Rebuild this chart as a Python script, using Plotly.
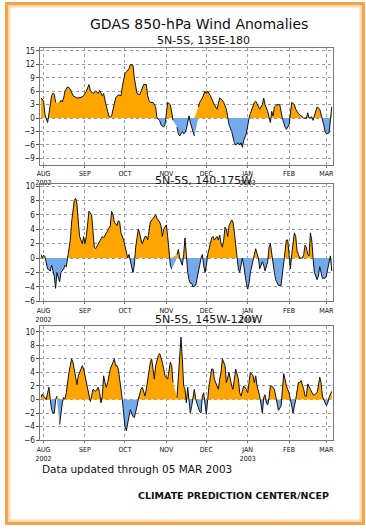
import datetime as dt
import plotly.graph_objects as go

# ---------------- data (day offsets from 1 Aug 2002, anomaly m/s) ----------------
BASE = "2002-08-01"

p1_days = [-2, -1, 0, 1, 2, 3, 4, 5, 6, 7, 8, 9, 10, 11, 12, 13, 14, 15, 16, 18, 20, 22, 25, 28, 30, 32,
           34, 35, 37, 39, 41, 42, 44, 45, 46, 47, 48, 49, 50, 51, 52, 54, 56, 58, 59, 61, 62, 64, 65, 67,
           68, 69, 70, 72, 74, 75, 77, 78, 79, 80, 82, 84, 85, 87, 88, 90, 91, 92, 93, 95, 96, 97, 98,
           100, 101, 102, 104, 105, 106, 107, 109, 110, 112, 113, 114, 116, 117, 119, 121, 122, 123, 125,
           127, 128, 130, 131, 132, 134, 135, 137, 138, 139, 141, 142, 143, 144, 146, 147, 148, 149, 150,
           152, 153, 154, 155, 157, 158, 159, 160, 162, 163, 164, 165, 166, 168, 169, 170, 171, 172, 173,
           175, 177, 178, 179, 181, 182, 184, 185, 186, 188, 189, 191, 193, 195, 197, 198, 199, 201, 202,
           203, 205, 207, 208, 209, 210, 211, 212, 214, 215, 216]
p1_vals = [4.5, 4.2, 3.8, 0.8, -0.3, -1.0, 1.0, 3.0, 5.0, 5.6, 5.3, 3.5, None, None, 3.5, 4.0, 3.6, 4.5, 6.0,
           7.0, 6.5, 5.0, 4.5, 4.6, 5.0, 6.0, 7.5, 6.2, 5.5, 6.0, 5.5, 6.2, 5.0, 5.5, 4.0, 3.0, 1.5, 0.4,
           0.2, 0.5, 2.0, 4.5, 5.2, 5.0, 7.0, 10.0, 10.3, 11.0, 12.0, 11.8, 9.0, 7.5, 5.5, 5.2, 6.5, 7.5,
           7.5, 5.0, 4.0, 3.5, 3.5, 2.5, 0.0, -0.5, -1.5, -2.0, -1.5, 1.5, 3.5, 3.0, 1.0, -0.5, None,
           -2.0, -3.5, -4.0, -3.0, -3.5, -3.3, -2.5, 0.5, -1.0, -3.0, -4.0, None, 2.5, 3.5, 4.5, 6.0, 5.5,
           6.0, 5.0, 3.5, 3.0, 2.0, 3.5, 4.5, 4.0, 3.5, 2.0, 0.0, -1.5, -3.0, -4.5, -5.5, -6.0, -5.5, -6.0,
           -5.5, -6.5, -5.0, -3.5, -1.5, 0.0, 1.0, 2.5, 3.5, 3.8, 3.3, 2.0, 2.5, 3.0, 4.5, 3.0, 1.5, 0.0,
           -1.0, 1.5, 0.5, 2.5, 3.0, 3.0, 1.5, 0.0, -2.0, -2.5, -1.5, 1.0, 3.5, 3.0, 2.0, 1.0, 0.5, 0.0,
           0.0, 1.2, 0.0, 0.3, -0.5, 0.5, 2.5, 2.0, 1.0, 0.0, -1.5, -3.0, -3.5, -3.3, -1.0, 2.5]

p2_days = [-2, -1, 0, 1, 3, 5, 6, 8, 9, 10, 12, 13, 15, 16, 17, 18, 20, 21, 22, 23, 24, 25, 26, 27, 28, 29,
           30, 31, 32, 33, 34, 36, 37, 38, 39, 41, 42, 44, 45, 46, 47, 48, 50, 51, 52, 53, 55, 56, 57, 58,
           60, 61, 62, 63, 64, 66, 67, 68, 69, 71, 72, 73, 74, 76, 77, 78, 79, 80, 82, 84, 85, 87, 88, 89,
           90, 92, 93, 94, 95, 96, 97, 100, 101, 102, 104, 105, 106, 107, 108, 109, 110, 111, 112, 114,
           115, 116, 117, 118, 119, 120, 121, 122, 123, 125, 126, 127, 128, 130, 131, 132, 133, 134, 135,
           136, 137, 138, 139, 141, 142, 143, 144, 145, 146, 147, 148, 149, 150, 151, 152, 153, 154, 155,
           156, 157, 158, 159, 160, 161, 162, 163, 164, 165, 166, 168, 169, 170, 171, 172, 173, 174, 175,
           176, 178, 179, 180, 181, 182, 183, 184, 185, 186, 187, 188, 189, 190, 191, 192, 194, 195, 196,
           197, 198, 199, 200, 201, 202, 203, 205, 206, 207, 208, 209, 211, 212, 213, 214, 215, 216]
p2_vals = [0.5, 0.0, 0.4, 0.2, -1.5, -1.8, -1.0, -2.5, -4.2, -2.0, -3.3, -2.0, -1.5, -1.0, -1.2, 0.0, 2.5,
           5.0, 6.5, 8.0, 8.3, 7.5, 5.0, 3.0, 2.5, 2.0, 3.0, 2.0, 3.0, 5.0, 6.5, 6.0, 3.0, 1.5, 1.3, 2.0,
           2.5, 3.0, 2.8, 3.2, 3.5, 3.8, 4.5, 6.5, 6.0, 5.0, 4.5, 5.2, 5.0, 3.5, 2.5, 1.5, 0.5, 0.0, 0.5,
           -1.5, -2.0, -1.0, 1.5, 4.0, 3.5, 2.5, 2.0, 3.0, 3.0, 2.5, 3.5, 5.0, 5.5, 6.0, 5.5, 5.0, 4.5,
           3.0, 4.0, 4.6, 3.0, 1.0, -1.0, -1.5, None, 0.5, 1.2, 0.0, -1.0, 0.5, 2.8, 0.5, -2.0, -3.0, -3.5,
           -3.5, -4.0, -3.8, -3.0, -2.0, -1.0, 0.0, 0.5, -1.0, -2.0, -1.0, 0.5, 2.0, 2.8, 3.0, 2.5, 3.0,
           2.5, 3.2, 2.0, 1.5, 2.5, 4.3, 4.0, 3.0, 4.5, 5.3, 5.0, 3.5, 1.5, 0.0, -1.5, -2.0, -1.0, 0.0,
           -1.0, -2.5, -3.5, -4.3, -3.5, -2.0, -1.0, 0.0, 0.5, 1.3, 0.5, 0.0, -1.5, -1.0, -0.5, -1.0, -1.8,
           -0.5, 1.5, 2.0, 0.5, -1.0, -2.0, -3.0, -3.5, -3.8, -3.8, -2.0, -0.5, 1.0, 2.5, 2.5, 0.0, -1.5,
           0.5, 2.0, 3.5, 3.0, 1.0, 0.5, 0.0, 0.0, 0.5, 1.8, 1.5, 0.5, 0.3, 3.5, 2.5, 0.0, -2.0, -3.0,
           -2.5, -1.2, -2.0, -2.8, -2.8, -2.5, -1.5, -0.5, 0.3, -1.8]

p3_days = [-2, -1, 0, 2, 3, 4, 5, 6, 7, 8, 9, 10, 11, 12, 13, 14, 15, 16, 17, 18, 19, 20, 21, 22, 23, 24,
           25, 26, 27, 28, 29, 30, 31, 32, 34, 35, 36, 37, 39, 40, 41, 42, 43, 44, 45, 46, 47, 48, 49, 50,
           52, 53, 54, 55, 56, 57, 58, 59, 60, 61, 62, 63, 64, 65, 66, 67, 68, 69, 70, 71, 72, 73, 74, 75,
           76, 77, 78, 80, 81, 82, 83, 84, 85, 86, 87, 88, 89, 90, 91, 93, 94, 95, 96, 97, 98, 100, 101,
           102, 103, 104, 105, 106, 107, 108, 109, 110, 111, 112, 113, 114, 115, 116, 117, 118, 119, 120,
           121, 122, 123, 124, 126, 127, 128, 130, 131, 132, 133, 134, 136, 137, 138, 139, 141, 142, 143,
           144, 146, 147, 148, 149, 150, 152, 153, 154, 155, 157, 158, 159, 160, 162, 163, 164, 165, 166,
           167, 168, 169, 170, 171, 173, 174, 175, 176, 178, 179, 180, 181, 182, 184, 185, 186, 187, 189,
           190, 191, 192, 193, 195, 196, 197, 198, 200, 201, 202, 203, 205, 206, 207, 208, 209, 211, 212,
           213, 214, 216]
p3_vals = [0.3, 0.8, 0.5, 0.0, 1.0, 1.8, 0.0, -1.5, -2.0, -2.0, 0.0, 0.5, None, -3.7, -2.0, -0.5, 0.3, 0.1,
           1.0, 3.0, 4.0, 5.0, 6.0, 5.5, 4.5, 3.5, 2.2, 3.5, 4.0, 4.5, 5.0, 4.5, 3.5, 3.0, 1.0, -0.3, 0.5,
           1.5, 1.2, 1.5, 1.8, 1.0, -0.5, 0.5, 3.5, 2.5, 1.8, 2.5, 3.5, 4.5, 5.5, 6.0, 5.0, 5.0, 4.5, 3.0,
           2.0, 0.0, -2.0, -4.0, -4.6, -3.5, -2.0, -1.5, -2.0, -2.5, -2.7, -2.0, -1.0, 0.0, 1.0, 1.5, 1.8,
           1.0, 0.5, 1.5, 3.0, 5.5, 6.0, 4.0, 3.0, 5.0, 6.0, 6.5, 6.8, 6.2, 5.5, 4.5, 3.5, 3.0, 4.5, 5.5,
           5.0, 2.5, None, 0.3, 3.0, 6.0, 9.2, 6.0, 2.0, 1.5, -0.5, 1.8, 0.0, -2.0, -1.0, 0.5, 1.5, 0.0,
           -0.5, -1.0, -1.8, -2.0, 0.5, 1.0, -1.0, -2.2, 0.0, 2.0, 4.5, 4.5, 3.0, 2.0, 1.5, 3.0, 4.0, 6.0,
           5.0, 2.5, 3.5, 4.0, 2.0, 1.5, 3.0, 4.5, 3.0, 1.0, 0.5, 1.5, 2.0, 1.5, 1.0, 2.5, 4.0, 3.5, 2.5,
           3.5, 2.0, 0.5, -1.0, -2.0, 0.3, 0.7, -0.5, -0.8, 0.3, 2.0, 2.0, 1.5, 0.5, -0.5, -1.6, -1.0, 2.0,
           3.8, 3.0, 2.0, 1.0, 0.0, -1.0, -2.0, 0.0, 1.5, 2.5, 2.5, 2.8, 1.5, 0.5, 0.5, 2.3, 1.5, 1.0, 0.7,
           0.7, 1.0, 2.0, 3.3, 2.5, 0.5, -0.5, -0.9, -0.5, 0.3, 1.2]

panel_titles = ["5N-5S, 135E-180", "5N-5S, 140-175W", "5N-5S, 145W-120W"]
y_ticks = [[-9, -6, -3, 0, 3, 6, 9, 12, 15], [-6, -4, -2, 0, 2, 4, 6, 8, 10], [-6, -4, -2, 0, 2, 4, 6, 8, 10]]
y_ranges = [[-10.43, 15.64], [-6.0, 10.3], [-6.0, 10.9]]
month_starts = ["2002-08-01", "2002-09-01", "2002-10-01", "2002-11-01", "2002-12-01",
                "2003-01-01", "2003-02-01", "2003-03-01"]
month_labels = ["AUG<br>2002", "SEP", "OCT", "NOV", "DEC", "JAN<br>2003", "FEB", "MAR"]
main_title = "GDAS 850-hPa Wind Anomalies"
footer_left = "Data updated through 05 MAR 2003"
footer_right = "CLIMATE PREDICTION CENTER/NCEP"

# ---------------- helpers ----------------
base = dt.datetime.fromisoformat(BASE)


def to_date(d):
    return base + dt.timedelta(days=d)


def split_signs(days, vals):
    xs, pos, neg = [], [], []
    prev = None
    for d, v in zip(days, vals):
        if v is None:
            xs.append(to_date(d)); pos.append(None); neg.append(None)
            prev = None
            continue
        if prev is not None and prev[1] * v < 0:
            t = prev[1] / (prev[1] - v)
            dc = prev[0] + t * (d - prev[0])
            xs.append(to_date(dc)); pos.append(0.0); neg.append(0.0)
        xs.append(to_date(d)); pos.append(max(v, 0.0)); neg.append(min(v, 0.0))
        prev = (d, v)
    return xs, pos, neg


W, H = 366, 530
ORANGE = "#FFA500"
BLUE = "#72AAEC"
FONT = "DejaVu Sans"
TICKFONT = "DejaVu Sans Condensed, " + FONT

# pixel layout of the three frames
frames = [(46.7, 165.0), (184.3, 303.3), (328.0, 444.0)]
x_left, x_right = 36.0, 333.0

fig = go.Figure()
series = [(p1_days, p1_vals), (p2_days, p2_vals), (p3_days, p3_vals)]
for i, (days, vals) in enumerate(series):
    sfx = "" if i == 0 else str(i + 1)
    xs, pos, neg = split_signs(days, vals)
    common = dict(xaxis="x" + sfx, yaxis="y" + sfx, showlegend=False, hoverinfo="skip",
                  connectgaps=False, mode="lines")
    fig.add_trace(go.Scatter(x=xs, y=pos, fill="tozeroy", fillcolor=ORANGE,
                             line=dict(width=0, color=ORANGE), **common))
    fig.add_trace(go.Scatter(x=xs, y=neg, fill="tozeroy", fillcolor=BLUE,
                             line=dict(width=0, color=BLUE), **common))
    fig.add_trace(go.Scatter(x=[to_date(d) for d in days], y=vals,
                             line=dict(width=1, color="#111111"), **common))

layout = dict(width=W, height=H, margin=dict(l=0, r=0, t=0, b=0),
              paper_bgcolor="white", plot_bgcolor="white",
              font=dict(family=FONT, color="#111111"))

xr = [to_date(-2.4), to_date(216.6)]
for i, (top, bot) in enumerate(frames):
    sfx = "" if i == 0 else str(i + 1)
    layout["xaxis" + sfx] = dict(
        domain=[x_left / W, x_right / W], anchor="y" + sfx, type="date", range=xr,
        tickmode="array", tickvals=month_starts, ticktext=month_labels,
        tickfont=dict(size=7, family=TICKFONT), tickangle=0,
        showgrid=True, gridcolor="#9a9a9a", griddash="dot", gridwidth=1,
        showline=True, linecolor="#777777", linewidth=1, mirror=True,
        ticks="outside", ticklen=2, tickcolor="#777777", zeroline=False, fixedrange=True)
    layout["yaxis" + sfx] = dict(
        domain=[1 - bot / H, 1 - top / H], anchor="x" + sfx, range=y_ranges[i],
        tickmode="array", tickvals=y_ticks[i], tickfont=dict(size=8, family=TICKFONT),
        showgrid=True, gridcolor="#9a9a9a", griddash="dot", gridwidth=1,
        showline=True, linecolor="#777777", linewidth=1, mirror=True,
        ticks="outside", ticklen=3, tickcolor="#555555", zeroline=False, fixedrange=True)

fig.update_layout(**layout)

ann = [
    dict(text=main_title, x=197 / W, y=1 - 22 / H, font=dict(size=14, family=FONT)),
    dict(text=panel_titles[0], x=202 / W, y=1 - 39.5 / H, font=dict(size=11, family=FONT)),
    dict(text=panel_titles[1], x=202 / W, y=1 - 181 / H, font=dict(size=11, family=FONT)),
    dict(text=panel_titles[2], x=207 / W, y=1 - 322 / H, font=dict(size=11, family=FONT)),
]
for a in ann:
    fig.add_annotation(xref="paper", yref="paper", xanchor="center", yanchor="middle",
                       showarrow=False, **a)
fig.add_annotation(text=footer_left, xref="paper", yref="paper", x=36 / W, y=1 - 473 / H,
                   xanchor="left", yanchor="middle", showarrow=False, font=dict(size=10.5, family=FONT))
fig.add_annotation(text="<b>" + footer_right + "</b>", xref="paper", yref="paper", x=331 / W,
                   y=1 - 500 / H, xanchor="right", yanchor="middle", showarrow=False,
                   font=dict(size=9.5, family=FONT))

# orange frame around the page
fig.add_shape(type="rect", xref="paper", yref="paper", x0=4 / W, x1=1 - 4 / W, y0=4 / H, y1=1 - 4 / H,
              line=dict(color="#FCD9AE", width=3), layer="above")
fig.add_shape(type="rect", xref="paper", yref="paper", x0=1.5 / W, x1=1 - 1.5 / W, y0=1.5 / H,
              y1=1 - 1.5 / H, line=dict(color="#F6A24A", width=3), layer="above")

fig.write_html("out.html", config={"displayModeBar": False},
               post_script="document.body.style.margin='0';document.body.style.overflow='hidden';")
